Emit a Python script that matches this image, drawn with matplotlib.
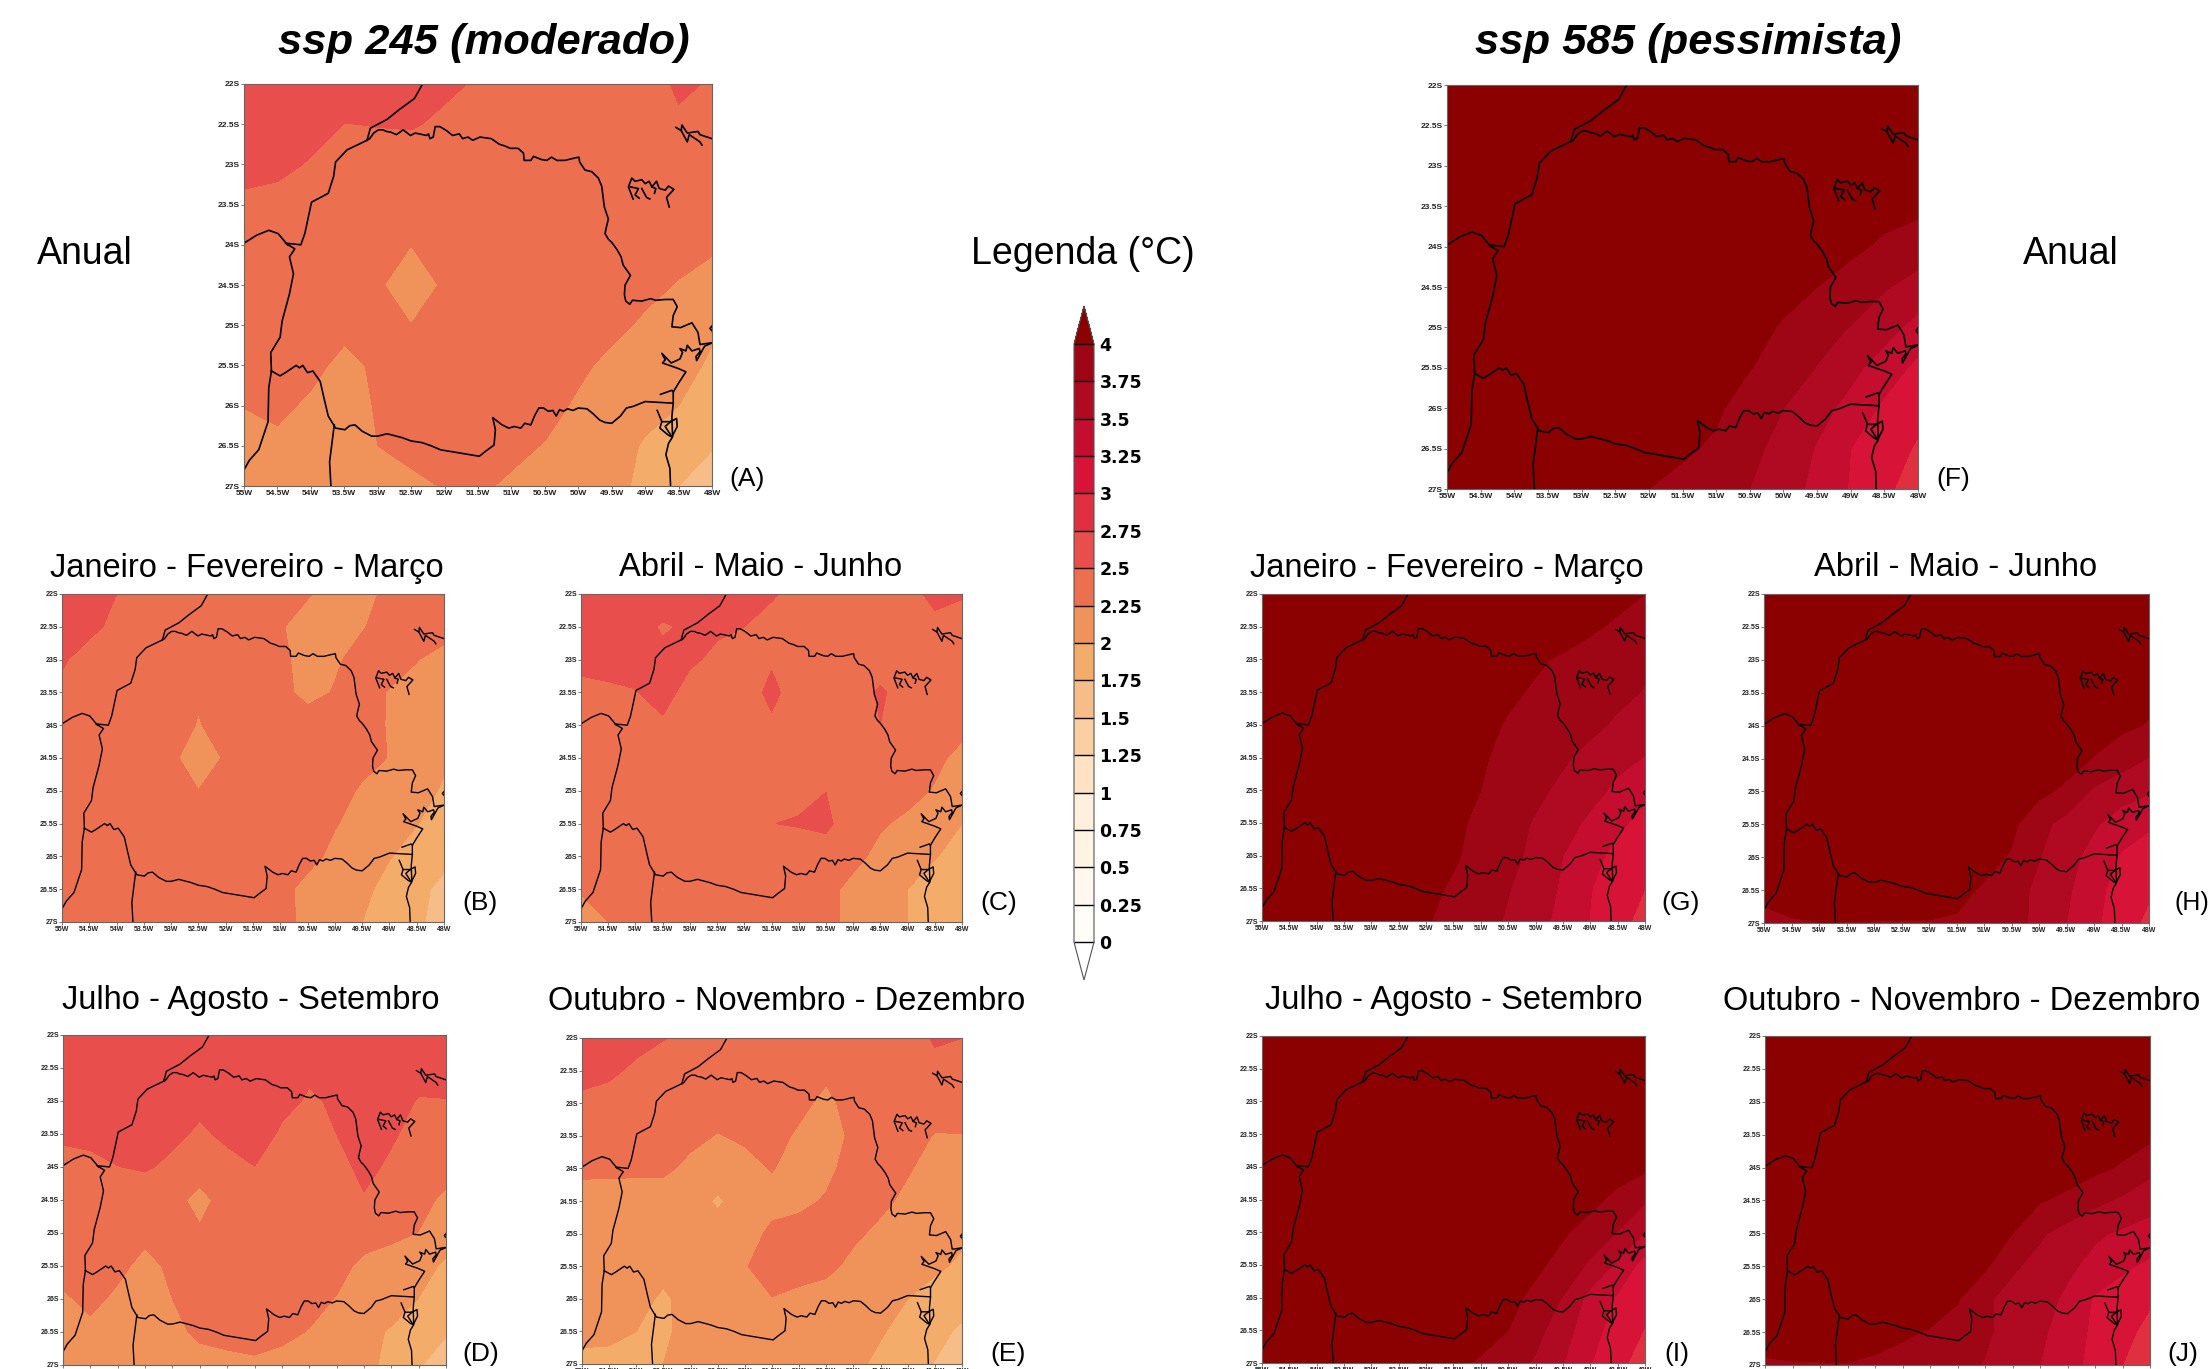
import numpy as np
import matplotlib
matplotlib.use('agg')
import matplotlib.pyplot as plt

W, H = 2211, 1369
plt.rcParams['font.family'] = ['Liberation Sans', 'DejaVu Sans']

LONS = [-55, -54.5, -54, -53.5, -53, -52.5, -52, -51.5, -51, -50.5, -50, -49.5, -49, -48.5, -48]
LATS = [-22, -22.5, -23, -23.5, -24, -24.5, -25, -25.5, -26, -26.5, -27]
LON_LABELS = ['55W', '54.5W', '54W', '53.5W', '53W', '52.5W', '52W', '51.5W', '51W', '50.5W', '50W', '49.5W', '49W', '48.5W', '48W']
LAT_LABELS = ['22S', '22.5S', '23S', '23.5S', '24S', '24.5S', '25S', '25.5S', '26S', '26.5S', '27S']

LEVELS = [0, 0.25, 0.5, 0.75, 1, 1.25, 1.5, 1.75, 2, 2.25, 2.5, 2.75, 3, 3.25, 3.5, 3.75, 4]
LEVEL_LABELS = ['0', '0.25', '0.5', '0.75', '1', '1.25', '1.5', '1.75', '2', '2.25', '2.5', '2.75', '3', '3.25', '3.5', '3.75', '4']
COLORS = ['#ffffff', '#fffdf8', '#fff8ee', '#fef4e4', '#fef0dc', '#fde3c3', '#fbcfa0', '#f7bd88', '#f4ac6b',
          '#f0935a', '#ec7050', '#e84e4c', '#e03040', '#d71438', '#c40d2f', '#b00a22', '#9e0515', '#8b0000']

# temperature change on the 0.5 degree grid, rows north to south, columns west to east
PANEL_A = [
    [2.70, 2.70, 2.68, 2.65, 2.62, 2.58, 2.52, 2.49, 2.46, 2.44, 2.42, 2.42, 2.44, 2.52, 2.49],
    [2.68, 2.65, 2.58, 2.497, 2.505, 2.51, 2.48, 2.46, 2.44, 2.42, 2.41, 2.40, 2.41, 2.48, 2.46],
    [2.58, 2.56, 2.48, 2.44, 2.44, 2.44, 2.43, 2.42, 2.42, 2.40, 2.40, 2.39, 2.39, 2.40, 2.42],
    [2.45, 2.42, 2.40, 2.38, 2.37, 2.36, 2.36, 2.36, 2.36, 2.36, 2.36, 2.36, 2.36, 2.36, 2.36],
    [2.40, 2.38, 2.36, 2.34, 2.32, 2.251, 2.32, 2.33, 2.34, 2.34, 2.34, 2.34, 2.33, 2.31, 2.27],
    [2.38, 2.36, 2.34, 2.31, 2.26, 2.21, 2.26, 2.31, 2.34, 2.34, 2.33, 2.32, 2.30, 2.24, 2.20],
    [2.36, 2.34, 2.33, 2.30, 2.29, 2.251, 2.30, 2.32, 2.33, 2.33, 2.32, 2.30, 2.22, 2.15, 2.03],
    [2.34, 2.33, 2.30, 2.20, 2.28, 2.30, 2.31, 2.32, 2.33, 2.32, 2.29, 2.20, 2.13, 2.07, 1.97],
    [2.255, 2.29, 2.22, 2.15, 2.27, 2.31, 2.32, 2.33, 2.33, 2.32, 2.22, 2.15, 2.08, 2.00, 1.86],
    [2.18, 2.21, 2.18, 2.18, 2.25, 2.30, 2.31, 2.32, 2.30, 2.24, 2.17, 2.10, 1.975, 1.88, 1.76],
    [2.15, 2.15, 2.15, 2.16, 2.18, 2.21, 2.26, 2.28, 2.22, 2.16, 2.10, 2.05, 1.96, 1.75, 1.68],
]
PANEL_B = [
    [2.60, 2.55, 2.50, 2.45, 2.42, 2.40, 2.38, 2.36, 2.33, 2.26, 2.20, 2.21, 2.28, 2.32, 2.33],
    [2.58, 2.53, 2.47, 2.42, 2.40, 2.38, 2.36, 2.33, 2.26, 2.20, 2.17, 2.24, 2.31, 2.33, 2.32],
    [2.515, 2.45, 2.42, 2.40, 2.38, 2.36, 2.35, 2.32, 2.28, 2.20, 2.23, 2.30, 2.31, 2.255, 2.19],
    [2.47, 2.44, 2.41, 2.39, 2.37, 2.27, 2.32, 2.31, 2.30, 2.20, 2.26, 2.31, 2.24, 2.20, 2.17],
    [2.42, 2.40, 2.38, 2.36, 2.32, 2.24, 2.31, 2.32, 2.33, 2.33, 2.32, 2.30, 2.24, 2.19, 2.15],
    [2.39, 2.37, 2.35, 2.33, 2.27, 2.20, 2.26, 2.32, 2.33, 2.33, 2.32, 2.30, 2.245, 2.17, 2.04],
    [2.37, 2.35, 2.33, 2.32, 2.31, 2.251, 2.30, 2.32, 2.33, 2.32, 2.31, 2.23, 2.15, 2.09, 1.97],
    [2.36, 2.34, 2.33, 2.32, 2.31, 2.30, 2.30, 2.32, 2.33, 2.31, 2.26, 2.19, 2.10, 2.005, 1.93],
    [2.34, 2.33, 2.32, 2.31, 2.31, 2.30, 2.31, 2.32, 2.32, 2.30, 2.21, 2.12, 2.01, 1.92, 1.80],
    [2.33, 2.32, 2.32, 2.31, 2.31, 2.31, 2.31, 2.32, 2.30, 2.20, 2.14, 2.05, 1.93, 1.80, 1.70],
    [2.33, 2.32, 2.32, 2.32, 2.32, 2.32, 2.32, 2.32, 2.29, 2.22, 2.12, 2.00, 1.90, 1.78, 1.68],
]
PANEL_C = [
    [2.70, 2.70, 2.68, 2.66, 2.62, 2.58, 2.55, 2.515, 2.46, 2.42, 2.40, 2.40, 2.46, 2.53, 2.51],
    [2.68, 2.66, 2.60, 2.47, 2.54, 2.53, 2.50, 2.45, 2.42, 2.40, 2.38, 2.39, 2.40, 2.47, 2.45],
    [2.54, 2.56, 2.58, 2.57, 2.53, 2.46, 2.42, 2.485, 2.40, 2.38, 2.37, 2.39, 2.38, 2.40, 2.41],
    [2.46, 2.47, 2.49, 2.57, 2.43, 2.38, 2.44, 2.53, 2.44, 2.38, 2.38, 2.53, 2.40, 2.38, 2.39],
    [2.42, 2.41, 2.42, 2.47, 2.40, 2.30, 2.40, 2.48, 2.42, 2.38, 2.38, 2.499, 2.38, 2.36, 2.30],
    [2.36, 2.36, 2.37, 2.35, 2.32, 2.248, 2.32, 2.37, 2.40, 2.42, 2.41, 2.38, 2.34, 2.29, 2.20],
    [2.33, 2.33, 2.34, 2.33, 2.33, 2.31, 2.33, 2.36, 2.42, 2.497, 2.42, 2.36, 2.31, 2.235, 2.17],
    [2.32, 2.32, 2.33, 2.33, 2.33, 2.33, 2.36, 2.495, 2.525, 2.56, 2.33, 2.27, 2.21, 2.11, 2.00],
    [2.31, 2.31, 2.31, 2.31, 2.31, 2.31, 2.31, 2.31, 2.31, 2.36, 2.30, 2.20, 2.10, 2.01, 1.93],
    [2.26, 2.29, 2.29, 2.248, 2.29, 2.29, 2.29, 2.29, 2.29, 2.30, 2.20, 2.09, 1.999, 1.92, 1.85],
    [2.20, 2.25, 2.28, 2.28, 2.29, 2.29, 2.29, 2.29, 2.29, 2.29, 2.21, 2.08, 1.999, 1.92, 1.84],
]
PANEL_D = [
    [2.72, 2.72, 2.72, 2.72, 2.72, 2.70, 2.68, 2.66, 2.64, 2.60, 2.58, 2.58, 2.58, 2.58, 2.58],
    [2.70, 2.70, 2.70, 2.70, 2.68, 2.66, 2.64, 2.62, 2.60, 2.53, 2.56, 2.58, 2.58, 2.56, 2.56],
    [2.66, 2.65, 2.64, 2.63, 2.60, 2.56, 2.56, 2.58, 2.55, 2.48, 2.52, 2.56, 2.56, 2.49, 2.495],
    [2.54, 2.56, 2.60, 2.64, 2.56, 2.46, 2.55, 2.60, 2.47, 2.42, 2.50, 2.58, 2.53, 2.42, 2.42],
    [2.42, 2.44, 2.495, 2.53, 2.44, 2.295, 2.42, 2.497, 2.40, 2.38, 2.42, 2.56, 2.46, 2.38, 2.32],
    [2.38, 2.38, 2.36, 2.33, 2.28, 2.22, 2.29, 2.36, 2.36, 2.36, 2.36, 2.48, 2.38, 2.31, 2.21],
    [2.35, 2.34, 2.34, 2.30, 2.30, 2.262, 2.30, 2.33, 2.34, 2.34, 2.34, 2.34, 2.30, 2.245, 2.12],
    [2.33, 2.32, 2.30, 2.19, 2.29, 2.30, 2.31, 2.32, 2.33, 2.33, 2.32, 2.20, 2.15, 2.09, 1.96],
    [2.22, 2.30, 2.21, 2.15, 2.25, 2.29, 2.31, 2.32, 2.33, 2.32, 2.24, 2.15, 2.09, 1.995, 1.88],
    [2.15, 2.20, 2.15, 2.12, 2.21, 2.28, 2.31, 2.32, 2.30, 2.24, 2.14, 2.06, 1.98, 1.88, 1.76],
    [2.12, 2.13, 2.12, 2.12, 2.14, 2.19, 2.20, 2.22, 2.18, 2.14, 2.10, 2.04, 1.96, 1.76, 1.69],
]
PANEL_E = [
    [2.62, 2.60, 2.55, 2.505, 2.48, 2.44, 2.42, 2.40, 2.38, 2.36, 2.36, 2.38, 2.42, 2.52, 2.50],
    [2.56, 2.53, 2.47, 2.44, 2.42, 2.40, 2.39, 2.37, 2.34, 2.29, 2.33, 2.36, 2.38, 2.45, 2.44],
    [2.46, 2.44, 2.42, 2.40, 2.37, 2.34, 2.33, 2.32, 2.30, 2.20, 2.33, 2.36, 2.34, 2.33, 2.33],
    [2.38, 2.36, 2.34, 2.32, 2.30, 2.24, 2.28, 2.32, 2.22, 2.18, 2.28, 2.34, 2.32, 2.24, 2.245],
    [2.29, 2.29, 2.29, 2.29, 2.20, 2.08, 2.19, 2.26, 2.17, 2.20, 2.33, 2.36, 2.27, 2.17, 2.13],
    [2.17, 2.16, 2.15, 2.14, 2.063, 1.98, 2.07, 2.17, 2.20, 2.27, 2.34, 2.30, 2.20, 2.14, 2.10],
    [2.15, 2.14, 2.13, 2.10, 2.10, 2.06, 2.14, 2.30, 2.33, 2.34, 2.29, 2.20, 2.14, 2.08, 2.03],
    [2.12, 2.12, 2.10, 2.06, 2.10, 2.15, 2.24, 2.32, 2.33, 2.31, 2.19, 2.13, 2.08, 2.03, 1.97],
    [2.11, 2.11, 2.06, 1.97, 2.07, 2.12, 2.18, 2.245, 2.20, 2.15, 2.12, 2.05, 2.00, 1.93, 1.85],
    [2.05, 2.04, 2.00, 1.985, 2.03, 2.08, 2.10, 2.14, 2.14, 2.12, 2.08, 2.02, 1.92, 1.82, 1.71],
    [1.95, 1.95, 1.96, 2.00, 2.06, 2.08, 2.10, 2.12, 2.12, 2.10, 2.05, 1.95, 1.87, 1.74, 1.65],
]
PANEL_F = [
    [5.0, 5.0, 4.9, 4.9, 4.8, 4.8, 4.7, 4.7, 4.6, 4.6, 4.5, 4.5, 4.4, 4.4, 4.3],
    [5.0, 4.9, 4.9, 4.8, 4.8, 4.7, 4.7, 4.6, 4.6, 4.5, 4.5, 4.4, 4.4, 4.3, 4.3],
    [4.9, 4.9, 4.8, 4.8, 4.7, 4.7, 4.6, 4.6, 4.5, 4.5, 4.4, 4.4, 4.3, 4.3, 4.2],
    [4.9, 4.8, 4.8, 4.7, 4.7, 4.6, 4.6, 4.5, 4.5, 4.4, 4.3, 4.3, 4.2, 4.1, 4.06],
    [4.8, 4.8, 4.7, 4.7, 4.6, 4.6, 4.5, 4.4, 4.4, 4.3, 4.2, 4.15, 4.06, 3.95, 3.87],
    [4.8, 4.7, 4.7, 4.6, 4.6, 4.5, 4.4, 4.4, 4.3, 4.2, 4.1, 4.0, 3.88, 3.77, 3.66],
    [4.7, 4.7, 4.6, 4.6, 4.5, 4.4, 4.4, 4.3, 4.2, 4.1, 3.97, 3.85, 3.74, 3.6, 3.41],
    [4.7, 4.6, 4.6, 4.5, 4.4, 4.4, 4.3, 4.2, 4.1, 4.01, 3.89, 3.74, 3.57, 3.38, 3.19],
    [4.6, 4.6, 4.5, 4.4, 4.4, 4.3, 4.2, 4.15, 4.04, 3.88, 3.75, 3.59, 3.42, 3.2, 3.08],
    [4.6, 4.5, 4.4, 4.4, 4.3, 4.2, 4.15, 4.04, 3.96, 3.82, 3.66, 3.48, 3.25, 3.12, 2.97],
    [4.5, 4.4, 4.4, 4.3, 4.2, 4.1, 4.0, 3.92, 3.84, 3.75, 3.6, 3.44, 3.23, 3.05, 2.88],
]
PANEL_G = [
    [5.0, 5.0, 4.9, 4.9, 4.8, 4.8, 4.7, 4.7, 4.6, 4.5, 4.4, 4.3, 4.2, 4.1, 4.0],
    [5.0, 4.9, 4.9, 4.8, 4.8, 4.7, 4.7, 4.6, 4.5, 4.4, 4.3, 4.2, 4.05, 3.95, 3.88],
    [4.9, 4.9, 4.8, 4.8, 4.7, 4.7, 4.6, 4.5, 4.4, 4.3, 4.05, 3.95, 3.88, 3.83, 3.79],
    [4.9, 4.8, 4.8, 4.7, 4.6, 4.6, 4.5, 4.4, 4.3, 4.06, 3.96, 3.89, 3.84, 3.8, 3.74],
    [4.8, 4.8, 4.7, 4.6, 4.6, 4.5, 4.4, 4.3, 4.1, 3.97, 3.94, 3.86, 3.8, 3.72, 3.62],
    [4.8, 4.7, 4.6, 4.6, 4.5, 4.4, 4.3, 4.15, 4.03, 3.93, 3.86, 3.78, 3.69, 3.58, 3.49],
    [4.7, 4.6, 4.6, 4.5, 4.4, 4.4, 4.3, 4.1, 4.0, 3.9, 3.8, 3.70, 3.6, 3.44, 3.3],
    [4.7, 4.6, 4.5, 4.5, 4.4, 4.3, 4.2, 4.07, 3.93, 3.83, 3.73, 3.62, 3.44, 3.3, 3.17],
    [4.6, 4.6, 4.5, 4.4, 4.3, 4.2, 4.1, 4.03, 3.92, 3.82, 3.69, 3.5, 3.34, 3.17, 3.08],
    [4.5, 4.5, 4.4, 4.3, 4.2, 4.1, 4.06, 3.97, 3.87, 3.76, 3.65, 3.46, 3.26, 3.12, 3.0],
    [4.4, 4.4, 4.3, 4.2, 4.15, 4.07, 4.02, 3.92, 3.82, 3.73, 3.57, 3.44, 3.24, 3.07, 2.93],
]
PANEL_H = [
    [5.0, 5.0, 4.9, 4.9, 4.8, 4.8, 4.7, 4.7, 4.6, 4.6, 4.5, 4.5, 4.4, 4.4, 4.4],
    [5.0, 4.9, 4.9, 4.8, 4.8, 4.7, 4.7, 4.6, 4.6, 4.5, 4.5, 4.4, 4.4, 4.3, 4.3],
    [4.9, 4.9, 4.8, 4.8, 4.7, 4.7, 4.6, 4.6, 4.5, 4.5, 4.4, 4.4, 4.3, 4.2, 4.2],
    [4.9, 4.8, 4.8, 4.7, 4.7, 4.6, 4.6, 4.5, 4.5, 4.4, 4.3, 4.3, 4.2, 4.15, 4.08],
    [4.8, 4.8, 4.7, 4.7, 4.6, 4.6, 4.5, 4.4, 4.4, 4.3, 4.2, 4.15, 4.1, 4.05, 3.98],
    [4.8, 4.7, 4.7, 4.6, 4.6, 4.5, 4.4, 4.4, 4.3, 4.2, 4.15, 4.1, 3.99, 3.86, 3.74],
    [4.7, 4.7, 4.6, 4.6, 4.5, 4.4, 4.4, 4.3, 4.2, 4.15, 4.06, 3.95, 3.71, 3.6, 3.52],
    [4.7, 4.6, 4.6, 4.5, 4.4, 4.4, 4.3, 4.2, 4.15, 4.05, 3.83, 3.66, 3.53, 3.38, 3.28],
    [4.6, 4.5, 4.5, 4.4, 4.4, 4.3, 4.2, 4.15, 4.08, 3.98, 3.76, 3.59, 3.41, 3.22, 3.14],
    [4.03, 4.1, 4.2, 4.3, 4.3, 4.3, 4.2, 4.07, 3.97, 3.84, 3.7, 3.54, 3.33, 3.14, 3.03],
    [3.97, 3.98, 3.995, 3.99, 3.98, 3.98, 3.98, 3.97, 3.88, 3.82, 3.7, 3.5, 3.3, 3.1, 2.95],
]
PANEL_I = [
    [5.0, 5.0, 4.9, 4.9, 4.8, 4.8, 4.7, 4.7, 4.6, 4.6, 4.5, 4.5, 4.5, 4.5, 4.5],
    [5.0, 4.9, 4.9, 4.8, 4.8, 4.7, 4.7, 4.6, 4.6, 4.5, 4.5, 4.5, 4.5, 4.5, 4.4],
    [4.9, 4.9, 4.8, 4.8, 4.7, 4.7, 4.6, 4.6, 4.5, 4.5, 4.5, 4.4, 4.4, 4.4, 4.3],
    [4.9, 4.8, 4.8, 4.7, 4.7, 4.6, 4.6, 4.5, 4.5, 4.5, 4.4, 4.4, 4.3, 4.3, 4.2],
    [4.8, 4.8, 4.7, 4.7, 4.6, 4.6, 4.5, 4.5, 4.5, 4.4, 4.4, 4.3, 4.2, 4.12, 4.05],
    [4.8, 4.7, 4.7, 4.6, 4.6, 4.5, 4.5, 4.5, 4.4, 4.4, 4.3, 4.2, 4.07, 3.93, 3.78],
    [4.7, 4.7, 4.6, 4.6, 4.5, 4.5, 4.5, 4.4, 4.4, 4.3, 4.2, 4.03, 3.9, 3.74, 3.51],
    [4.7, 4.6, 4.6, 4.5, 4.5, 4.5, 4.4, 4.4, 4.3, 4.2, 4.05, 3.92, 3.71, 3.45, 3.15],
    [4.6, 4.6, 4.5, 4.5, 4.5, 4.4, 4.4, 4.3, 4.2, 4.07, 3.94, 3.74, 3.42, 3.22, 3.07],
    [4.6, 4.5, 4.5, 4.5, 4.4, 4.4, 4.3, 4.2, 4.1, 4.0, 3.83, 3.6, 3.35, 3.13, 2.99],
    [4.5, 4.5, 4.5, 4.4, 4.4, 4.3, 4.2, 4.06, 3.97, 3.87, 3.72, 3.51, 3.26, 3.06, 2.9],
]
PANEL_J = [
    [5.0, 5.0, 4.9, 4.9, 4.8, 4.8, 4.7, 4.7, 4.6, 4.6, 4.5, 4.5, 4.4, 4.4, 4.3],
    [5.0, 4.9, 4.9, 4.8, 4.8, 4.7, 4.7, 4.6, 4.6, 4.5, 4.5, 4.4, 4.4, 4.3, 4.3],
    [4.9, 4.9, 4.8, 4.8, 4.7, 4.7, 4.6, 4.6, 4.5, 4.5, 4.4, 4.4, 4.3, 4.2, 4.2],
    [4.9, 4.8, 4.8, 4.7, 4.7, 4.6, 4.6, 4.5, 4.5, 4.4, 4.3, 4.3, 4.2, 4.12, 4.06],
    [4.8, 4.8, 4.7, 4.7, 4.6, 4.6, 4.5, 4.4, 4.4, 4.3, 4.2, 4.15, 4.06, 3.97, 3.82],
    [4.8, 4.7, 4.7, 4.6, 4.6, 4.5, 4.4, 4.4, 4.3, 4.2, 4.02, 3.93, 3.81, 3.71, 3.6],
    [4.7, 4.7, 4.6, 4.6, 4.5, 4.4, 4.4, 4.3, 4.2, 4.0, 3.78, 3.66, 3.54, 3.46, 3.39],
    [4.7, 4.6, 4.6, 4.5, 4.4, 4.4, 4.3, 4.2, 4.04, 3.78, 3.68, 3.55, 3.42, 3.29, 3.2],
    [4.6, 4.6, 4.5, 4.4, 4.4, 4.3, 4.2, 4.02, 3.78, 3.68, 3.6, 3.45, 3.22, 3.13, 3.03],
    [4.1, 4.15, 4.2, 4.2, 4.15, 4.05, 3.97, 3.89, 3.78, 3.68, 3.55, 3.37, 3.2, 3.07, 2.93],
    [3.97, 3.98, 3.98, 3.985, 3.93, 3.88, 3.84, 3.8, 3.74, 3.62, 3.5, 3.33, 3.18, 3.0, 2.9],
]

# map outlines as degrees west, degrees south
PARANA_NORTH = [
    (53.16, 22.70), (53.12, 22.68), (53.06, 22.61), (52.99, 22.57), (52.92, 22.57), (52.87, 22.59), (52.80, 22.60),
    (52.72, 22.63), (52.62, 22.57), (52.51, 22.64), (52.44, 22.61), (52.27, 22.64), (52.24, 22.62), (52.22, 22.68),
    (52.17, 22.66), (52.14, 22.53), (52.07, 22.53), (51.97, 22.58), (51.88, 22.64), (51.78, 22.62), (51.73, 22.68),
    (51.65, 22.66), (51.58, 22.70), (51.47, 22.66), (51.30, 22.68), (51.18, 22.75), (51.10, 22.77), (51.02, 22.80),
    (50.90, 22.80), (50.82, 22.86), (50.81, 22.95), (50.71, 22.95), (50.67, 22.90), (50.55, 22.94), (50.47, 22.95),
    (50.40, 22.91), (50.32, 22.95), (50.20, 22.95), (50.05, 22.92), (49.99, 22.91), (49.98, 22.97), (49.90, 23.07),
    (49.80, 23.09), (49.70, 23.17), (49.65, 23.27), (49.63, 23.40), (49.61, 23.53), (49.55, 23.68), (49.58, 23.78),
    (49.60, 23.86), (49.55, 23.93), (49.50, 23.97), (49.42, 24.06), (49.36, 24.15), (49.33, 24.25), (49.22, 24.38),
    (49.30, 24.50), (49.31, 24.62), (49.29, 24.70), (49.23, 24.74), (49.19, 24.69), (49.05, 24.70), (48.92, 24.67),
    (48.84, 24.69), (48.70, 24.68), (48.58, 24.68), (48.52, 24.77), (48.58, 24.88), (48.60, 25.02), (48.47, 25.03),
    (48.30, 24.97), (48.21, 25.09), (48.18, 25.24), (48.02, 25.22),
]
PARANA_SOUTH = [
    (48.58, 25.97), (49.00, 25.95), (49.18, 26.01), (49.28, 26.03), (49.37, 26.13), (49.50, 26.22), (49.60, 26.21),
    (49.68, 26.18), (49.78, 26.10), (49.87, 26.04), (50.00, 26.03), (50.08, 26.06), (50.16, 26.04), (50.22, 26.07),
    (50.28, 26.05), (50.33, 26.13), (50.38, 26.06), (50.45, 26.07), (50.52, 26.03), (50.59, 26.03), (50.65, 26.12),
    (50.71, 26.24), (50.80, 26.22), (50.86, 26.28), (50.96, 26.26), (51.04, 26.28), (51.14, 26.24), (51.28, 26.15),
    (51.24, 26.30), (51.26, 26.49), (51.39, 26.57), (51.48, 26.63), (52.06, 26.55), (52.20, 26.50), (52.34, 26.46),
    (52.50, 26.44), (52.63, 26.40), (52.86, 26.35), (53.00, 26.38), (53.09, 26.38), (53.23, 26.32), (53.34, 26.24),
    (53.42, 26.25), (53.49, 26.30), (53.63, 26.28), (53.74, 26.13), (53.80, 25.92), (53.86, 25.70), (53.97, 25.57),
    (54.05, 25.59), (54.12, 25.50), (54.17, 25.53), (54.22, 25.50), (54.38, 25.59), (54.46, 25.63), (54.59, 25.57),
]
PARANA_WEST = [
    (54.59, 25.57), (54.60, 25.34), (54.46, 25.15), (54.43, 24.95), (54.32, 24.61), (54.26, 24.36), (54.32, 24.15),
    (54.24, 24.05), (54.38, 23.98), (54.15, 24.00), (54.09, 23.86), (53.99, 23.47), (53.74, 23.36), (53.66, 23.15),
    (53.63, 22.97), (53.46, 22.82), (53.16, 22.70),
]
MATO_GROSSO_LINE = [(53.16, 22.70), (53.11, 22.55), (52.86, 22.44), (52.68, 22.32), (52.45, 22.18), (52.33, 22.00)]
PARAGUAY_LINE = [(55.00, 23.98), (54.81, 23.88), (54.63, 23.82), (54.49, 23.86), (54.35, 24.00)]
ARGENTINA_LINE = [(54.59, 25.57), (54.63, 25.78), (54.64, 26.20), (54.78, 26.55), (54.92, 26.68), (55.00, 26.80)]
SANTA_CATARINA_LINE = [(53.65, 26.24), (53.72, 26.70), (53.70, 27.00)]
COAST_LINE = [
    (48.00, 25.22), (48.11, 25.26), (48.17, 25.35), (48.23, 25.44), (48.24, 25.39), (48.18, 25.33), (48.19, 25.29),
    (48.30, 25.32), (48.37, 25.25), (48.39, 25.32), (48.48, 25.29), (48.44, 25.34), (48.48, 25.42), (48.61, 25.47),
    (48.75, 25.35), (48.70, 25.43), (48.74, 25.47), (48.50, 25.54), (48.39, 25.58), (48.50, 25.72), (48.58, 25.83),
    (48.58, 25.97), (48.60, 26.14), (48.59, 26.39), (48.65, 26.47), (48.69, 26.61), (48.63, 26.78), (48.62, 27.00),
]
BAY_LINE = [(48.77, 25.86), (48.60, 25.81), (48.58, 25.83)]
ISLAND_LINE = [(48.62, 26.20), (48.53, 26.16), (48.52, 26.26), (48.60, 26.39), (48.70, 26.26), (48.62, 26.20)]
LAGOON_LINE = [(48.82, 26.06), (48.75, 26.20), (48.62, 26.20)]
LAGOON_SHORE = [(48.75, 26.20), (48.78, 26.28), (48.65, 26.37), (48.60, 26.39)]
RESERVOIR_LINE = [
    (49.18, 23.43), (49.25, 23.28), (49.20, 23.17), (49.15, 23.21), (49.05, 23.19), (49.00, 23.24), (48.94, 23.21),
    (48.90, 23.28), (48.83, 23.21), (48.79, 23.30), (48.70, 23.32), (48.65, 23.27), (48.57, 23.31), (48.68, 23.41),
    (48.64, 23.53),
]
RESERVOIR_ARM_1 = [(49.22, 23.28), (49.10, 23.30), (49.15, 23.38), (49.09, 23.42)]
RESERVOIR_ARM_2 = [(49.05, 23.30), (48.98, 23.41), (48.93, 23.43)]
RESERVOIR_ARM_3 = [(48.90, 23.28), (48.84, 23.30), (48.86, 23.36)]
NORTH_RIVER_1 = [(48.54, 22.54), (48.46, 22.58), (48.45, 22.51), (48.37, 22.61), (48.21, 22.59), (48.18, 22.63), (48.00, 22.68)]
NORTH_RIVER_2 = [(48.46, 22.58), (48.37, 22.72), (48.34, 22.63), (48.18, 22.72), (48.15, 22.76)]
SMALL_ISLE = [(48.00, 25.01), (48.03, 25.04), (48.00, 25.07)]
MAP_LINES = [PARANA_NORTH, PARANA_SOUTH, PARANA_WEST, MATO_GROSSO_LINE, PARAGUAY_LINE, ARGENTINA_LINE,
             SANTA_CATARINA_LINE, COAST_LINE, BAY_LINE, ISLAND_LINE, LAGOON_LINE, LAGOON_SHORE, RESERVOIR_LINE,
             RESERVOIR_ARM_1, RESERVOIR_ARM_2, RESERVOIR_ARM_3, NORTH_RIVER_1, NORTH_RIVER_2, SMALL_ISLE]


def draw_panel(fig, field, left, right, top, bottom, tick_size, line_width):
    ax = fig.add_axes([left / W, 1 - bottom / H, (right - left) / W, (bottom - top) / H])
    cs = ax.contourf(LONS, LATS, np.array(field), levels=LEVELS, colors=COLORS, extend='both')
    for line in MAP_LINES:
        pts = np.array(line)
        ax.plot(-pts[:, 0], -pts[:, 1], color='black', lw=line_width, solid_joinstyle='round')
    ax.set_xlim(-55, -48)
    ax.set_ylim(-27, -22)
    ax.set_xticks(LONS, LON_LABELS, fontweight='bold')
    ax.set_yticks(LATS, LAT_LABELS, fontweight='bold')
    ax.tick_params(labelsize=tick_size, length=2, width=0.5, pad=1, color='#444444', labelcolor='#222222')
    for spine in ax.spines.values():
        spine.set_color('#666666')
        spine.set_linewidth(0.8)
    return cs


def label(fig, x, y, text, size, ha='center', **kw):
    fig.text(x / W, 1 - y / H, text, fontsize=size, ha=ha, va='center', color='black', **kw)


fig = plt.figure(figsize=(W / 100, H / 100), dpi=100)

cs = draw_panel(fig, PANEL_A, 244, 712, 84, 486, 6.0, 1.2)
draw_panel(fig, PANEL_F, 1447, 1918, 85, 489, 6.0, 1.2)
draw_panel(fig, PANEL_B, 62, 444, 594, 922, 5.0, 1.0)
draw_panel(fig, PANEL_C, 581, 962, 594, 922, 5.0, 1.0)
draw_panel(fig, PANEL_G, 1262, 1645, 594, 921, 5.0, 1.0)
draw_panel(fig, PANEL_H, 1764, 2149, 594, 923, 5.0, 1.0)
draw_panel(fig, PANEL_D, 63, 446, 1035, 1365, 5.0, 1.0)
draw_panel(fig, PANEL_E, 582, 962, 1038, 1364, 5.0, 1.0)
draw_panel(fig, PANEL_I, 1262, 1645, 1036, 1363, 5.0, 1.0)
draw_panel(fig, PANEL_J, 1765, 2150, 1036, 1365, 5.0, 1.0)

# colour scale, arrows are part of the same axes
cax = fig.add_axes([1074 / W, 1 - 980 / H, 20 / W, 674 / H])
cbar = fig.colorbar(cs, cax=cax, ticks=LEVELS, drawedges=True, extendfrac=0.0634)
cbar.ax.set_yticklabels(LEVEL_LABELS)
cbar.ax.tick_params(labelsize=12.5, length=0, pad=4)
for t in cbar.ax.get_yticklabels():
    t.set_fontfamily('DejaVu Sans')
    t.set_fontweight('bold')
cbar.dividers.set_color('black')
cbar.dividers.set_linewidth(1.0)
cbar.outline.set_edgecolor('#555555')
cbar.outline.set_linewidth(0.8)

label(fig, 484, 43, 'ssp 245 (moderado)', 31.3, fontweight='bold', fontstyle='italic')
label(fig, 1688, 43, 'ssp 585 (pessimista)', 31.3, fontweight='bold', fontstyle='italic')
label(fig, 85, 254, 'Anual', 27)
label(fig, 2071, 254, 'Anual', 27)
label(fig, 1083, 254, 'Legenda (°C)', 27)

label(fig, 247, 568, 'Janeiro - Fevereiro - Março', 23.5)
label(fig, 761, 568, 'Abril - Maio - Junho', 23.5)
label(fig, 251, 1001, 'Julho - Agosto - Setembro', 23.5)
label(fig, 787, 1001, 'Outubro - Novembro - Dezembro', 23.5)
label(fig, 1447, 568, 'Janeiro - Fevereiro - Março', 23.5)
label(fig, 1956, 568, 'Abril - Maio - Junho', 23.5)
label(fig, 1454, 1001, 'Julho - Agosto - Setembro', 23.5)
label(fig, 1962, 1001, 'Outubro - Novembro - Dezembro', 23.5)

label(fig, 729, 479, '(A)', 19, ha='left')
label(fig, 1936, 479, '(F)', 19, ha='left')
label(fig, 462, 903, '(B)', 19, ha='left')
label(fig, 980, 903, '(C)', 19, ha='left')
label(fig, 1661, 903, '(G)', 19, ha='left')
label(fig, 2175, 903, '(H)', 18, ha='left')
label(fig, 462, 1354, '(D)', 19, ha='left')
label(fig, 990, 1354, '(E)', 19, ha='left')
label(fig, 1664, 1354, '(I)', 19, ha='left')
label(fig, 2167, 1354, '(J)', 19, ha='left')

fig.savefig('out.png', dpi=100)
plt.close(fig)
